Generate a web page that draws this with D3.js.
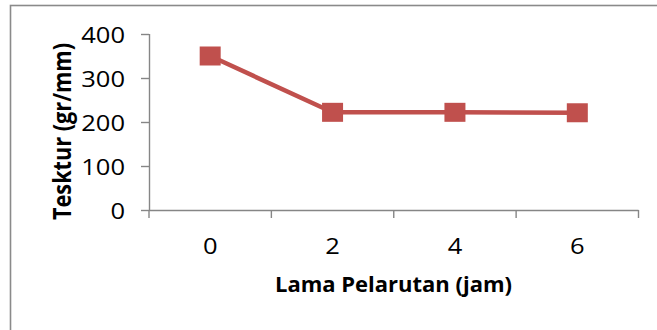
<!DOCTYPE html>
<html>
<head>
<meta charset="utf-8">
<script src="https://cdn.jsdelivr.net/npm/d3@7/dist/d3.min.js"></script>
<style>
  html, body { margin: 0; padding: 0; background: #fff; }
  svg { display: block; }
  text { font-family: "Open Sans", "Liberation Sans", sans-serif; fill: #000; }
</style>
</head>
<body>
<svg id="chart" width="657" height="330"></svg>
<script>
// ---- data ----
const categories = ["0", "2", "4", "6"];
const values = [350, 222, 222, 221];
const yTicks = [0, 100, 200, 300, 400];
const xTitle = "Lama Pelarutan (jam)";
const yTitle = "Tesktur (gr/mm)";

// ---- layout ----
const SX = 1.16;           // horizontal stretch of text in the reference
const FS = 22;
const plot = { left: 149, right: 638.5, top: 34, bottom: 210 };
const color = "#C0504D";
const axisColor = "#868686";

const svg = d3.select("#chart");

// outer frame (extends past the window on right/bottom)
svg.append("rect")
  .attr("x", 10.5).attr("y", 5.5)
  .attr("width", 700).attr("height", 400)
  .attr("fill", "none").attr("stroke", "#8a8a8a").attr("stroke-width", 1.6);

const x = d3.scaleBand().domain(categories).range([plot.left, plot.right]).padding(0);
const y = d3.scaleLinear().domain([0, 400]).range([plot.bottom, plot.top]);

// y axis
const gy = svg.append("g").attr("transform", `translate(${plot.left},0)`)
  .call(d3.axisLeft(y).tickValues(yTicks).tickSize(8).tickFormat(d3.format("d")));
gy.select(".domain").attr("stroke", axisColor).attr("stroke-width", 1.4)
  .attr("d", `M0.5,${plot.top}V${plot.bottom}`);
gy.selectAll(".tick line").attr("stroke", axisColor).attr("stroke-width", 1.4);
gy.selectAll(".tick text")
  .attr("x", null).attr("dy", null)
  .attr("font-size", FS)
  .attr("text-anchor", "end")
  .attr("dominant-baseline", "central")
  .attr("transform", `translate(-24,0.5) scale(${SX},1)`);

// x axis (ticks between categories)
const gx = svg.append("g").attr("transform", `translate(0,${plot.bottom})`);
gx.append("line")
  .attr("x1", plot.left).attr("x2", plot.right)
  .attr("y1", 0.5).attr("y2", 0.5)
  .attr("stroke", axisColor).attr("stroke-width", 1.4);
const edges = categories.map(c => x(c)).concat([x(categories[categories.length - 1]) + x.bandwidth()]);
gx.selectAll(".xtick").data(edges).join("line")
  .attr("class", "xtick")
  .attr("x1", d => d).attr("x2", d => d)
  .attr("y1", 0).attr("y2", 8)
  .attr("stroke", axisColor).attr("stroke-width", 1.4);
gx.selectAll(".xlabel").data(categories).join("text")
  .attr("class", "xlabel")
  .attr("font-size", FS)
  .attr("text-anchor", "middle")
  .attr("transform", d => `translate(${x(d) + x.bandwidth() / 2},44) scale(${SX},1)`)
  .text(d => d);

// line + markers
const line = d3.line()
  .x((d, i) => x(categories[i]) + x.bandwidth() / 2)
  .y(d => y(d));
svg.append("path").datum(values)
  .attr("d", line)
  .attr("fill", "none").attr("stroke", color).attr("stroke-width", 4.5)
  .attr("stroke-linejoin", "round");
const mw = 21, mh = 19;
svg.selectAll(".marker").data(values).join("rect")
  .attr("class", "marker")
  .attr("x", (d, i) => x(categories[i]) + x.bandwidth() / 2 - mw / 2)
  .attr("y", d => y(d) - mh / 2)
  .attr("width", mw).attr("height", mh)
  .attr("fill", color);

// axis titles
svg.append("text")
  .attr("font-size", FS).attr("font-weight", "bold")
  .attr("text-anchor", "middle")
  .attr("textLength", 237 / SX).attr("lengthAdjust", "spacingAndGlyphs")
  .attr("transform", `translate(393.5,291.5) scale(${SX},1)`)
  .text(xTitle);

svg.append("text")
  .attr("font-size", FS).attr("font-weight", "bold")
  .attr("text-anchor", "middle")
  .attr("textLength", 177).attr("lengthAdjust", "spacingAndGlyphs")
  .attr("transform", `translate(70.5,131.5) scale(${SX},1) rotate(-90)`)
  .text(yTitle);
</script>
</body>
</html>
